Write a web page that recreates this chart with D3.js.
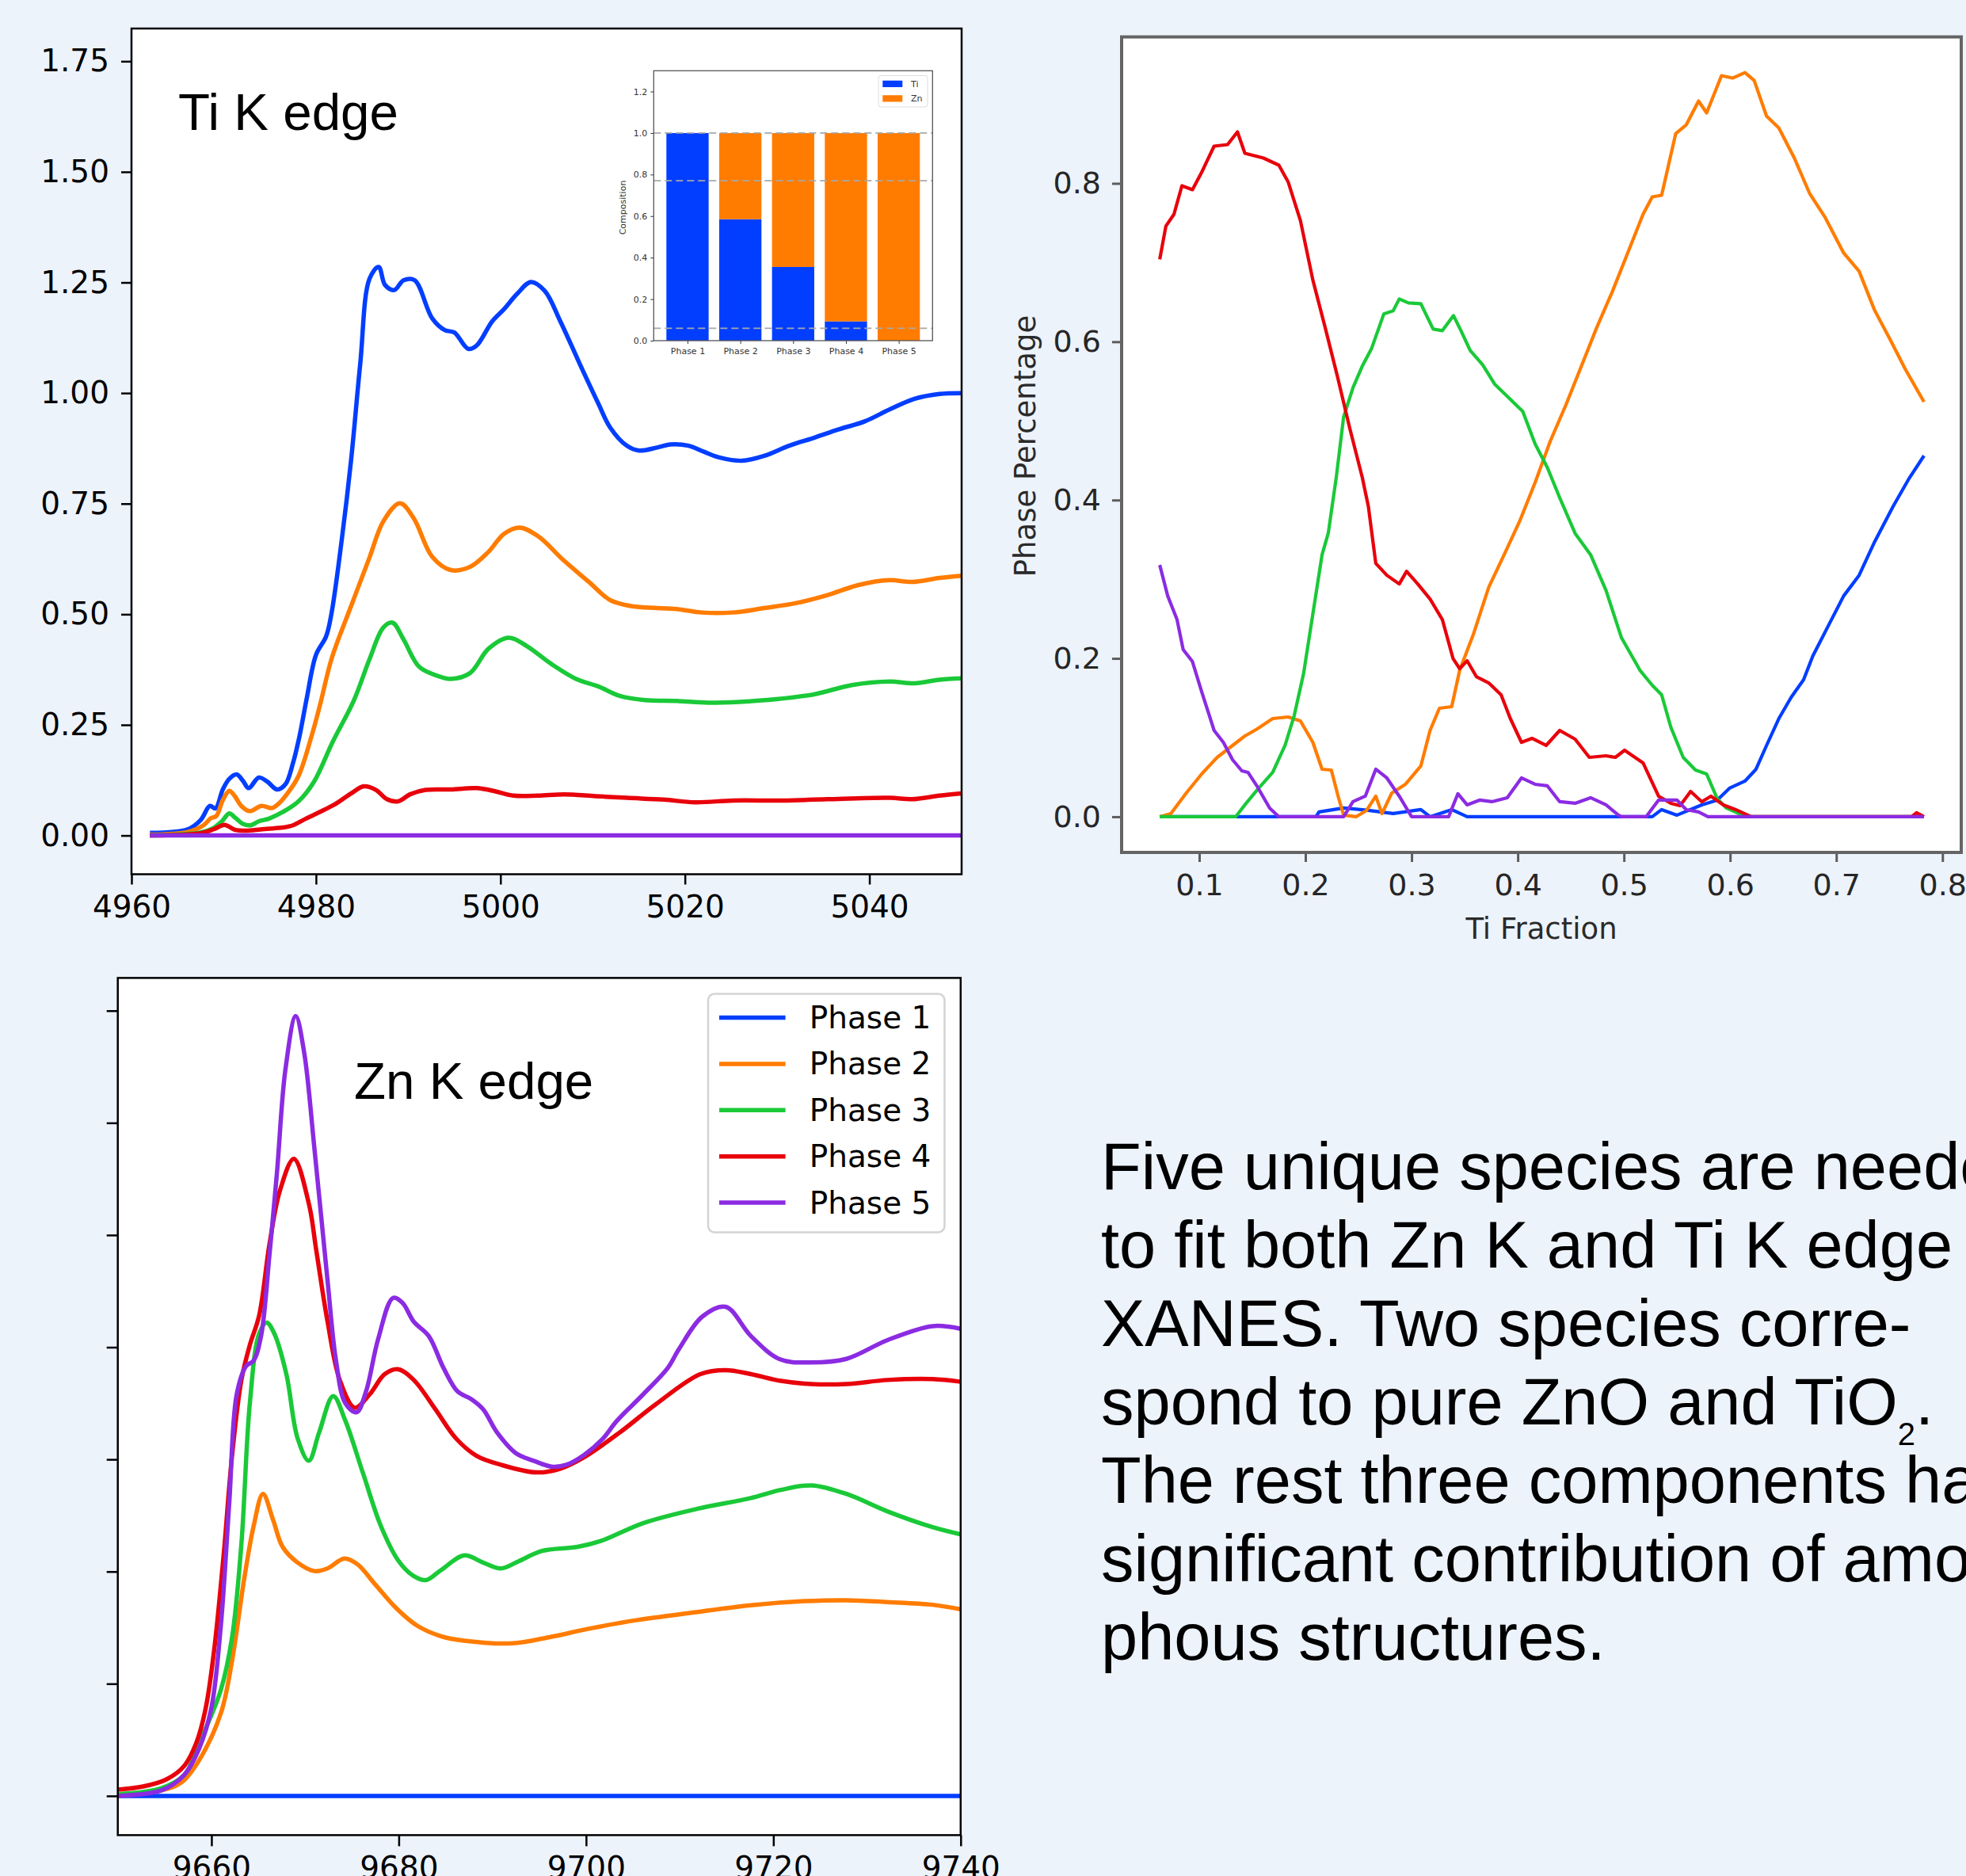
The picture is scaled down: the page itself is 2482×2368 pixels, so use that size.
<!DOCTYPE html>
<html><head><meta charset="utf-8">
<script src="https://cdn.jsdelivr.net/npm/d3@7"></script>
<style>
html,body{margin:0;padding:0;background:#EDF3FB;}
svg{display:block;}
</style>
</head><body>
<svg id="chart" width="2482" height="2368"></svg>
<script>
// ---------------- DATA ----------------
const phaseNames = ["Phase 1", "Phase 2", "Phase 3", "Phase 4", "Phase 5"];
const phaseColors = ["#023EFF", "#FF7C00", "#1AC938", "#E8000B", "#8B2BE2"];

// Ti K edge spectra [energy eV, normalized absorption]
const tiP1 = [[4962,0.006],[4966.1,0.014],[4967.5,0.035],[4968.5,0.067],[4969.1,0.061],[4969.9,0.104],[4970.6,0.128],[4971.4,0.138],[4972.1,0.123],[4972.7,0.107],[4973.8,0.131],[4974.7,0.122],[4975.8,0.104],[4976.7,0.116],[4977.5,0.163],[4978.2,0.223],[4979.0,0.310],[4980.0,0.408],[4981.1,0.45],[4981.7,0.504],[4982.8,0.669],[4983.8,0.847],[4984.8,1.066],[4985.8,1.258],[4986.8,1.285],[4987.5,1.244],[4988.5,1.233],[4989.5,1.255],[4990.7,1.255],[4992.6,1.169],[4994.0,1.142],[4995.0,1.137],[4996.5,1.100],[4997.4,1.107],[4999.1,1.162],[5000.4,1.190],[5001.8,1.224],[5003.3,1.251],[5004.8,1.231],[5006.5,1.162],[5008.6,1.066],[5010.6,0.977],[5011.9,0.922],[5013.7,0.881],[5015.0,0.870],[5017.0,0.877],[5018.4,0.884],[5020.4,0.881],[5022.1,0.867],[5023.8,0.854],[5026.2,0.847],[5028.6,0.858],[5031.3,0.881],[5034.0,0.899],[5036.7,0.918],[5039.5,0.936],[5042.2,0.963],[5044.9,0.987],[5047.6,0.998],[5050,1.0]];
const tiP2 = [[4962,0.002],[4966.1,0.008],[4967.8,0.023],[4968.6,0.039],[4969.2,0.044],[4969.9,0.080],[4970.6,0.101],[4971.2,0.089],[4971.9,0.067],[4972.8,0.055],[4974.1,0.067],[4975.2,0.062],[4975.9,0.071],[4976.9,0.095],[4978.1,0.134],[4979.5,0.223],[4980.5,0.300],[4981.7,0.400],[4983.8,0.518],[4985.8,0.628],[4987.3,0.710],[4989.1,0.751],[4990.6,0.717],[4992.6,0.630],[4994.6,0.600],[4996.7,0.607],[4998.7,0.641],[5000.4,0.682],[5002.1,0.696],[5004.1,0.676],[5006.9,0.621],[5009.6,0.573],[5011.9,0.532],[5014.3,0.518],[5017.0,0.514],[5019.4,0.511],[5021.8,0.504],[5025.2,0.504],[5028.6,0.514],[5032.0,0.525],[5035.4,0.543],[5038.8,0.566],[5042.2,0.577],[5044.6,0.573],[5047.6,0.582],[5050,0.587]];
const tiP3 = [[4962,0.0],[4967.5,0.007],[4968.9,0.017],[4969.8,0.032],[4970.6,0.050],[4971.2,0.041],[4972.1,0.026],[4972.9,0.023],[4973.8,0.032],[4974.9,0.038],[4976.4,0.053],[4978.1,0.077],[4979.8,0.122],[4981.8,0.211],[4984.1,0.305],[4985.8,0.398],[4987.3,0.470],[4988.3,0.481],[4989.5,0.443],[4991.2,0.381],[4993.3,0.360],[4994.6,0.354],[4996.7,0.367],[4998.7,0.422],[5000.9,0.447],[5002.8,0.429],[5005.5,0.388],[5008.2,0.354],[5010.6,0.337],[5013.0,0.315],[5015.7,0.306],[5019.1,0.304],[5022.5,0.300],[5025.9,0.302],[5029.9,0.308],[5034.0,0.319],[5038.1,0.340],[5042.2,0.348],[5044.9,0.344],[5047.6,0.352],[5050,0.355]];
const tiP4 = [[4962,0.0],[4967.5,0.005],[4968.9,0.014],[4970.1,0.024],[4971.2,0.013],[4972.6,0.011],[4974.7,0.015],[4976.4,0.018],[4977.5,0.023],[4978.9,0.038],[4980.4,0.053],[4982.1,0.071],[4983.8,0.095],[4985.2,0.111],[4986.5,0.103],[4987.7,0.082],[4988.9,0.077],[4990.2,0.093],[4991.9,0.103],[4994.6,0.104],[4997.4,0.107],[4999.4,0.100],[5001.4,0.090],[5004.1,0.090],[5006.9,0.093],[5010.3,0.089],[5013.7,0.085],[5017.7,0.081],[5021.1,0.075],[5025.2,0.079],[5030.6,0.079],[5035.4,0.082],[5042.2,0.085],[5044.6,0.082],[5047.6,0.090],[5050,0.095]];
const tiP5 = [[4962,0.0],[5050,0.0]];

// Zn K edge spectra
const znP1 = [[9650,0.0],[9740,0.0]];
const znP2 = [[9650,0.0],[9654.6,0.012],[9656.8,0.030],[9658.7,0.080],[9661,0.184],[9662.2,0.301],[9663.5,0.484],[9664.5,0.601],[9665.5,0.673],[9666.6,0.614],[9667.6,0.555],[9669.2,0.520],[9671,0.501],[9672.4,0.507],[9674.2,0.529],[9675.6,0.516],[9677.5,0.471],[9679.7,0.419],[9682,0.379],[9684.5,0.356],[9687,0.346],[9692.1,0.340],[9695.9,0.353],[9700.4,0.373],[9705.5,0.392],[9711.2,0.408],[9717.6,0.425],[9723.3,0.434],[9727.8,0.436],[9732.2,0.432],[9737,0.426],[9740,0.416]];
const znP3 = [[9650,0.004],[9654.6,0.017],[9657.1,0.047],[9659,0.132],[9661,0.236],[9662.2,0.353],[9663.2,0.562],[9664.1,0.875],[9665.1,1.031],[9665.9,1.055],[9666.7,1.031],[9668,0.940],[9669.2,0.797],[9670.4,0.747],[9671.5,0.810],[9673,0.891],[9674.3,0.836],[9676.2,0.718],[9678.1,0.601],[9680,0.523],[9681.6,0.490],[9682.9,0.481],[9684.5,0.503],[9687,0.536],[9689,0.520],[9690.9,0.507],[9692.8,0.523],[9695.3,0.546],[9699.1,0.555],[9701.7,0.569],[9706.1,0.608],[9711.9,0.640],[9717.6,0.664],[9720.8,0.682],[9724.1,0.692],[9727.8,0.673],[9732.2,0.634],[9737,0.599],[9740,0.583]];
const znP4 = [[9650,0.014],[9652.7,0.021],[9655.2,0.037],[9657.1,0.067],[9658.4,0.119],[9659.4,0.197],[9660.3,0.327],[9661.3,0.536],[9662.2,0.758],[9663.2,0.927],[9664.1,1.005],[9665.1,1.071],[9666.2,1.230],[9667.3,1.348],[9668.8,1.420],[9670.4,1.320],[9671.2,1.215],[9672.4,1.057],[9673.7,0.927],[9675.3,0.865],[9676.9,0.895],[9678.5,0.940],[9679.9,0.951],[9681.6,0.927],[9683.9,0.862],[9686.1,0.797],[9688.3,0.758],[9690.9,0.738],[9694.7,0.721],[9697.2,0.729],[9699.8,0.755],[9703.6,0.810],[9707.4,0.872],[9712.2,0.940],[9714.9,0.949],[9717.6,0.940],[9720.8,0.925],[9724,0.918],[9727.8,0.918],[9732.2,0.927],[9737,0.929],[9740,0.923]];
const znP5 = [[9650,0.0],[9654.6,0.012],[9657.1,0.047],[9658.7,0.106],[9660,0.197],[9661,0.379],[9661.9,0.653],[9662.7,0.895],[9663.7,0.958],[9664.5,0.970],[9665.3,1.025],[9666.2,1.207],[9667,1.390],[9667.9,1.619],[9669,1.738],[9669.9,1.657],[9671.0,1.442],[9672.4,1.148],[9673.3,0.970],[9674.3,0.875],[9675.5,0.855],[9676.5,0.901],[9677.8,1.018],[9679.4,1.110],[9680.4,1.099],[9681.6,1.057],[9683.2,1.025],[9684.8,0.953],[9686.3,0.901],[9687.7,0.885],[9689,0.862],[9690.5,0.810],[9692.5,0.764],[9694.4,0.747],[9696.3,0.734],[9697.9,0.738],[9699.8,0.760],[9701.7,0.794],[9703.3,0.836],[9706.1,0.895],[9708.7,0.953],[9709.9,0.995],[9712.4,1.068],[9714.9,1.090],[9717.6,1.025],[9720.7,0.973],[9724,0.966],[9727.8,0.974],[9732.2,1.016],[9737,1.047],[9740,1.041]];

// Phase percentage vs Ti fraction
const fracP1 = [[0.063,0],[0.21,0],[0.2128,0.006],[0.236,0.011],[0.2593,0.008],[0.2826,0.004],[0.3087,0.009],[0.3174,0],[0.3378,0.009],[0.3523,0],[0.5267,0],[0.5355,0.009],[0.55,0.002],[0.5733,0.015],[0.5878,0.021],[0.5994,0.036],[0.614,0.045],[0.6244,0.060],[0.6343,0.090],[0.6459,0.124],[0.6576,0.151],[0.6692,0.173],[0.6779,0.203],[0.6924,0.241],[0.707,0.279],[0.7215,0.305],[0.736,0.347],[0.7535,0.392],[0.768,0.426],[0.7826,0.456]];
const fracP2 = [[0.0628,0],[0.0733,0.004],[0.0878,0.030],[0.1023,0.054],[0.1169,0.075],[0.1314,0.090],[0.143,0.102],[0.1547,0.111],[0.1692,0.124],[0.1837,0.126],[0.1953,0.121],[0.207,0.094],[0.2157,0.060],[0.2244,0.059],[0.2314,0.023],[0.236,0.002],[0.2477,0],[0.2576,0.008],[0.2663,0.026],[0.2721,0.004],[0.2814,0.030],[0.2942,0.041],[0.3087,0.064],[0.3174,0.109],[0.3262,0.137],[0.3378,0.139],[0.3453,0.185],[0.3581,0.230],[0.3727,0.290],[0.3872,0.331],[0.4017,0.373],[0.4163,0.422],[0.4308,0.475],[0.4453,0.520],[0.4599,0.569],[0.4744,0.618],[0.489,0.663],[0.5035,0.712],[0.518,0.761],[0.5267,0.783],[0.5355,0.785],[0.5488,0.863],[0.5587,0.874],[0.5703,0.904],[0.5779,0.889],[0.5919,0.936],[0.6023,0.933],[0.614,0.940],[0.6227,0.930],[0.6343,0.885],[0.6459,0.870],[0.6605,0.832],[0.675,0.787],[0.6895,0.757],[0.707,0.712],[0.7215,0.689],[0.736,0.640],[0.7506,0.603],[0.7651,0.565],[0.7826,0.524]];
const fracP3 = [[0.0628,0],[0.1343,0],[0.143,0.015],[0.1547,0.034],[0.1692,0.056],[0.1808,0.090],[0.1895,0.128],[0.1983,0.181],[0.207,0.256],[0.2157,0.331],[0.2215,0.358],[0.2291,0.429],[0.236,0.505],[0.2448,0.542],[0.2535,0.569],[0.2622,0.591],[0.2738,0.635],[0.2826,0.639],[0.2884,0.654],[0.2971,0.649],[0.3087,0.648],[0.3203,0.616],[0.329,0.614],[0.3395,0.633],[0.3465,0.614],[0.3552,0.589],[0.3669,0.571],[0.3785,0.546],[0.3901,0.531],[0.4047,0.512],[0.4163,0.471],[0.4279,0.441],[0.4395,0.403],[0.454,0.358],[0.4686,0.331],[0.4831,0.286],[0.4977,0.226],[0.5151,0.185],[0.5267,0.166],[0.5355,0.154],[0.5442,0.113],[0.5558,0.075],[0.5674,0.059],[0.5779,0.054],[0.5878,0.023],[0.5965,0.011],[0.6081,0.004],[0.6169,0],[0.7826,0]];
const fracP4 = [[0.0628,0.704],[0.0686,0.746],[0.0762,0.761],[0.0837,0.797],[0.0936,0.792],[0.1023,0.814],[0.114,0.847],[0.1267,0.849],[0.136,0.865],[0.143,0.838],[0.1605,0.832],[0.175,0.823],[0.1837,0.802],[0.1953,0.753],[0.207,0.678],[0.2186,0.618],[0.230,0.557],[0.2419,0.490],[0.2535,0.429],[0.2593,0.392],[0.2663,0.320],[0.2767,0.305],[0.2884,0.294],[0.2953,0.310],[0.3058,0.294],[0.3174,0.275],[0.329,0.249],[0.339,0.200],[0.3453,0.187],[0.3523,0.197],[0.361,0.177],[0.3727,0.169],[0.3843,0.154],[0.393,0.124],[0.4035,0.094],[0.4134,0.099],[0.4267,0.090],[0.4395,0.109],[0.454,0.098],[0.4674,0.075],[0.4831,0.077],[0.4919,0.075],[0.5006,0.084],[0.518,0.068],[0.5326,0.026],[0.5442,0.017],[0.5529,0.014],[0.5628,0.032],[0.5733,0.019],[0.582,0.026],[0.5936,0.015],[0.6052,0.009],[0.6198,0],[0.771,0],[0.7756,0.005],[0.7826,0]];
const fracP5 = [[0.0628,0.318],[0.0703,0.279],[0.0791,0.249],[0.0849,0.211],[0.0936,0.196],[0.1023,0.158],[0.114,0.109],[0.1227,0.094],[0.1314,0.072],[0.1401,0.058],[0.1459,0.056],[0.1547,0.038],[0.1663,0.011],[0.175,0],[0.236,0],[0.2448,0.019],[0.2564,0.026],[0.2663,0.060],[0.2767,0.049],[0.2884,0.026],[0.3,0],[0.3349,0],[0.3436,0.029],[0.3523,0.015],[0.364,0.021],[0.3756,0.019],[0.3901,0.024],[0.4035,0.049],[0.4163,0.041],[0.4279,0.039],[0.4395,0.019],[0.454,0.017],[0.4686,0.024],[0.4831,0.015],[0.4948,0.002],[0.4977,0],[0.5209,0],[0.5326,0.021],[0.55,0.021],[0.5587,0.009],[0.5703,0.006],[0.5791,0],[0.7826,0]];

// Inset: elemental composition of each phase
const insetTi = [1.0, 0.585, 0.355, 0.093, 0.0];
const insetZn = [0.0, 0.415, 0.645, 0.907, 1.0];
const insetRefLines = [1.0, 0.77, 0.06];

// Tick values
const tiXTicks = [4960, 4980, 5000, 5020, 5040];
const znXTicks = [9660, 9680, 9700, 9720, 9740];
const specYTicks = [0, 0.25, 0.5, 0.75, 1.0, 1.25, 1.5, 1.75];
const fracXTicks = [0.1, 0.2, 0.3, 0.4, 0.5, 0.6, 0.7, 0.8];
const fracYTicks = [0, 0.2, 0.4, 0.6, 0.8];
const insetYTicks = [0, 0.2, 0.4, 0.6, 0.8, 1.0, 1.2];

const noteLines = ["Five unique species are needed", "to fit both Zn K and Ti K edge", "XANES. Two species corre-", "spond to pure ZnO and TiO", "The rest three components have", "significant contribution of amor-", "phous structures."];

// ---------------- DRAWING ----------------
const svg = d3.select("#chart");
const TICKFONT = "DejaVu Sans, sans-serif";
const ARIAL = "Liberation Sans, Arial, sans-serif";
let clipId = 0;

function panel(box, xDomain, yDomain) {
  const x = d3.scaleLinear().domain(xDomain).range([box.l, box.r]);
  const y = d3.scaleLinear().domain(yDomain).range([box.b, box.t]);
  const id = "clip" + (clipId++);
  svg.append("clipPath").attr("id", id).append("rect")
    .attr("x", box.l).attr("y", box.t).attr("width", box.r - box.l).attr("height", box.b - box.t);
  svg.append("rect").attr("x", box.l).attr("y", box.t).attr("width", box.r - box.l).attr("height", box.b - box.t).attr("fill", "#fff");
  const g = svg.append("g").attr("clip-path", `url(#${id})`);
  return {x, y, g};
}

function drawLines(p, series, width, curve) {
  const gen = d3.line().x(d => p.x(d[0])).y(d => p.y(d[1])).curve(curve);
  series.forEach((s, i) => {
    p.g.append("path").datum(s).attr("d", gen).attr("fill", "none")
      .attr("stroke", phaseColors[i]).attr("stroke-width", width)
      .attr("stroke-linejoin", "round").attr("stroke-linecap", "butt");
  });
}

function styleAxis(g, color, tickW, fontSize, fontColor) {
  g.select(".domain").remove();
  g.selectAll(".tick line").attr("stroke", color).attr("stroke-width", tickW);
  g.selectAll(".tick text").attr("fill", fontColor).attr("font-size", fontSize).attr("font-family", TICKFONT);
}

function frame(box, color, w) {
  svg.append("rect").attr("x", box.l).attr("y", box.t).attr("width", box.r - box.l).attr("height", box.b - box.t)
    .attr("fill", "none").attr("stroke", color).attr("stroke-width", w);
}

// ===== Panel A: Ti K edge =====
const boxA = {l: 166, r: 1214, t: 36, b: 1103.5};
const pA = panel(boxA, [4960, 5050], [-0.0876, 1.824]);
drawLines(pA, [tiP1, tiP2, tiP3, tiP4, tiP5], 5.5, d3.curveCatmullRom.alpha(0.5));
const axA_x = svg.append("g").attr("transform", `translate(0,${boxA.b})`)
  .call(d3.axisBottom(pA.x).tickValues(tiXTicks).tickFormat(d3.format("d")).tickSize(13).tickPadding(14));
styleAxis(axA_x, "#000", 2.5, 39, "#000");
const axA_y = svg.append("g").attr("transform", `translate(${boxA.l},0)`)
  .call(d3.axisLeft(pA.y).tickValues(specYTicks).tickFormat(d3.format(".2f")).tickSize(13).tickPadding(15));
styleAxis(axA_y, "#000", 2.5, 39, "#000");
frame(boxA, "#000", 2.5);
svg.append("text").attr("x", 225).attr("y", 164).attr("font-family", ARIAL).attr("font-size", 65.5).attr("fill", "#000").text("Ti K edge");

// ----- Inset bar chart -----
const boxI = {l: 825.3, r: 1177.3, t: 89.3, b: 430};
const xi = d3.scaleLinear().domain([-0.64, 4.64]).range([boxI.l, boxI.r]);
const yi = d3.scaleLinear().domain([0, 1.3]).range([boxI.b, boxI.t]);
svg.append("rect").attr("x", boxI.l).attr("y", boxI.t).attr("width", boxI.r - boxI.l).attr("height", boxI.b - boxI.t).attr("fill", "#fff");
const bw = xi(0.4) - xi(0);
const gi = svg.append("g");
gi.selectAll(".ti").data(insetTi).join("rect")
  .attr("x", (d, i) => xi(i) - bw).attr("width", 2 * bw)
  .attr("y", d => yi(d)).attr("height", d => yi(0) - yi(d)).attr("fill", phaseColors[0]);
gi.selectAll(".zn").data(insetZn).join("rect")
  .attr("x", (d, i) => xi(i) - bw).attr("width", 2 * bw)
  .attr("y", (d, i) => yi(insetTi[i] + d)).attr("height", d => yi(0) - yi(d)).attr("fill", phaseColors[1]);
gi.selectAll(".ref").data(insetRefLines).join("line")
  .attr("x1", boxI.l).attr("x2", boxI.r).attr("y1", d => yi(d)).attr("y2", d => yi(d))
  .attr("stroke", "#a8a8a8").attr("stroke-width", 1.8).attr("stroke-dasharray", "9,5");
const axI_x = svg.append("g").attr("transform", `translate(0,${boxI.b})`)
  .call(d3.axisBottom(xi).tickValues([0,1,2,3,4]).tickFormat(i => phaseNames[i]).tickSize(4).tickPadding(5));
styleAxis(axI_x, "#333", 1, 11, "#333");
const axI_y = svg.append("g").attr("transform", `translate(${boxI.l},0)`)
  .call(d3.axisLeft(yi).tickValues(insetYTicks).tickFormat(d3.format(".1f")).tickSize(4).tickPadding(4));
styleAxis(axI_y, "#333", 1, 11, "#333");
frame(boxI, "#555", 1.3);
svg.append("text").attr("transform", `translate(786,262) rotate(-90)`).attr("text-anchor", "middle")
  .attr("dominant-baseline", "central").attr("font-family", TICKFONT).attr("font-size", 11).attr("fill", "#333").text("Composition");
// inset legend
const legI = svg.append("g");
legI.append("rect").attr("x", 1109).attr("y", 95.5).attr("width", 62).attr("height", 39.5).attr("rx", 3)
  .attr("fill", "#fff").attr("stroke", "#ddd").attr("stroke-width", 1);
[["Ti", phaseColors[0]], ["Zn", phaseColors[1]]].forEach((e, i) => {
  legI.append("rect").attr("x", 1114.3).attr("y", 101.7 + i * 18.5).attr("width", 25).attr("height", 8.3).attr("fill", e[1]);
  legI.append("text").attr("x", 1150).attr("y", 106 + i * 18.5).attr("dominant-baseline", "central")
    .attr("font-family", TICKFONT).attr("font-size", 11).attr("fill", "#333").text(e[0]);
});

// ===== Panel B: Zn K edge =====
const boxB = {l: 148.7, r: 1212.8, t: 1234.4, b: 2316.4};
const pB = panel(boxB, [9650, 9740], [-0.0874, 1.823]);
drawLines(pB, [znP1, znP2, znP3, znP4, znP5], 5.5, d3.curveCatmullRom.alpha(0.5));
const axB_x = svg.append("g").attr("transform", `translate(0,${boxB.b})`)
  .call(d3.axisBottom(pB.x).tickValues(znXTicks).tickFormat(d3.format("d")).tickSize(14).tickPadding(13));
styleAxis(axB_x, "#000", 2.5, 39, "#000");
const axB_y = svg.append("g").attr("transform", `translate(${boxB.l},0)`)
  .call(d3.axisLeft(pB.y).tickValues(specYTicks).tickFormat("").tickSize(14));
styleAxis(axB_y, "#000", 2.5, 39, "#000");
frame(boxB, "#000", 2.5);
svg.append("text").attr("x", 447).attr("y", 1387).attr("font-family", ARIAL).attr("font-size", 65.5).attr("fill", "#000").text("Zn K edge");
// legend
const legB = svg.append("g");
legB.append("rect").attr("x", 894).attr("y", 1254.5).attr("width", 298.5).attr("height", 301).attr("rx", 8)
  .attr("fill", "#fff").attr("stroke", "#d3d3d3").attr("stroke-width", 2.5);
phaseNames.forEach((n, i) => {
  const cy = 1284.6 + i * 58.35;
  legB.append("line").attr("x1", 908).attr("x2", 991.6).attr("y1", cy).attr("y2", cy)
    .attr("stroke", phaseColors[i]).attr("stroke-width", 5.5);
  legB.append("text").attr("x", 1021.7).attr("y", cy).attr("dominant-baseline", "central")
    .attr("font-family", TICKFONT).attr("font-size", 39).attr("fill", "#000").text(n);
});

// ===== Panel C: phase percentage vs Ti fraction =====
const boxC = {l: 1416, r: 2476, t: 46.6, b: 1076};
const pC = panel(boxC, [0.0269, 0.8177], [-0.0451, 0.985]);
drawLines(pC, [fracP1, fracP2, fracP3, fracP4, fracP5], 4.2, d3.curveLinear);
const axC_x = svg.append("g").attr("transform", `translate(0,${boxC.b})`)
  .call(d3.axisBottom(pC.x).tickValues(fracXTicks).tickFormat(d3.format(".1f")).tickSize(12).tickPadding(15));
styleAxis(axC_x, "#5c5c5c", 3, 38, "#262626");
const axC_y = svg.append("g").attr("transform", `translate(${boxC.l},0)`)
  .call(d3.axisLeft(pC.y).tickValues(fracYTicks).tickFormat(d3.format(".1f")).tickSize(12).tickPadding(14));
styleAxis(axC_y, "#5c5c5c", 3, 38, "#262626");
frame(boxC, "#646464", 4);
svg.append("text").attr("x", 1946).attr("y", 1172).attr("text-anchor", "middle").attr("dominant-baseline", "central")
  .attr("font-family", TICKFONT).attr("font-size", 37).attr("fill", "#2a2a2a").text("Ti Fraction");
svg.append("text").attr("transform", "translate(1294,563) rotate(-90)").attr("text-anchor", "middle")
  .attr("dominant-baseline", "central").attr("font-family", TICKFONT).attr("font-size", 37).attr("fill", "#2a2a2a").text("Phase Percentage");

// ===== Note text =====
const note = svg.append("g").attr("font-family", ARIAL).attr("font-size", 83).attr("fill", "#000");
noteLines.forEach((t, i) => {
  const tx = note.append("text").attr("x", 1390).attr("y", 1501 + i * 99);
  tx.append("tspan").text(t);
  if (i === 3) {
    tx.append("tspan").attr("font-size", 40).attr("dy", 26).text("2");
    tx.append("tspan").attr("dy", -26).text(".");
  }
});
</script>
</body></html>
